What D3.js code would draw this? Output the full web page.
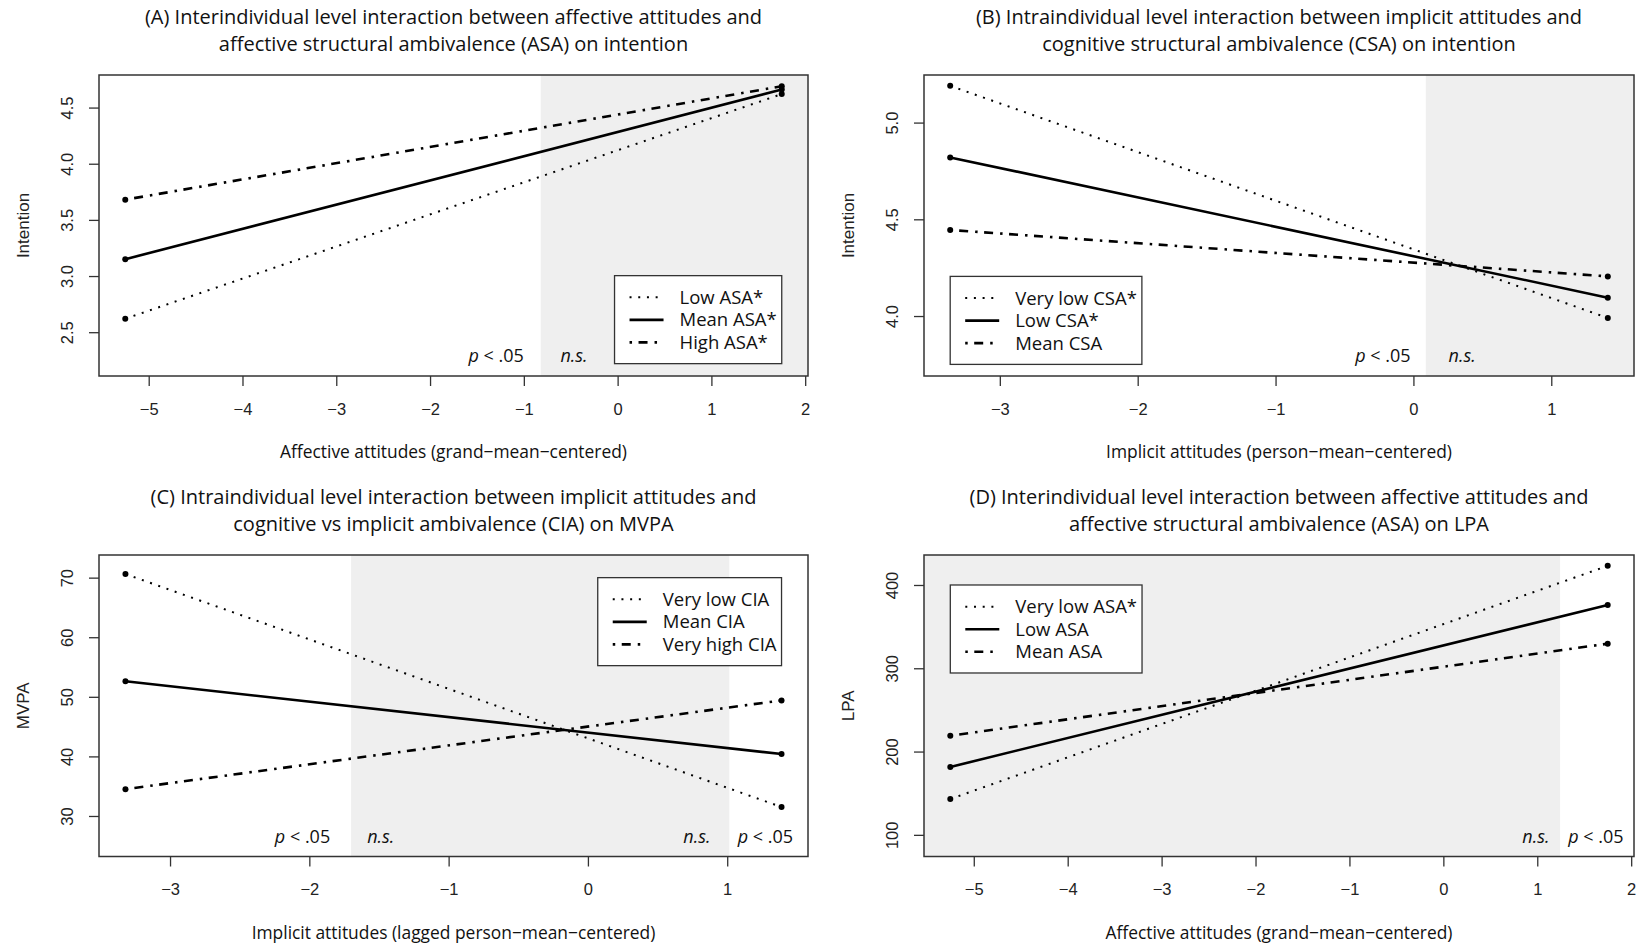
<!DOCTYPE html>
<html>
<head>
<meta charset="utf-8">
<script src="https://cdn.jsdelivr.net/npm/d3@7"></script>
<style>
  body { margin: 0; background: #fff; }
  svg { display: block; }
</style>
</head>
<body>
<div id="chart"></div>
<script>
// ---- data ----
// x positions where the simple slopes are evaluated
var xAffectiveA = [-5.25, 1.75]
var xImplicitB = [-3.36, 1.41]
var xImplicitC = [-3.32, 1.39]
var xAffectiveD = [-5.25, 1.75]

// (A) intention by ASA
var namesA = ["Low ASA*", "Mean ASA*", "High ASA*"]
var lowA = [2.62, 4.62]
var meanA = [3.15, 4.66]
var highA = [3.68, 4.69]
var xTicksA = [-5, -4, -3, -2, -1, 0, 1, 2]
var yTicksA = [2.5, 3.0, 3.5, 4.0, 4.5]
var nsRegionA = [-0.82, null]

// (B) intention by CSA
var namesB = ["Very low CSA*", "Low CSA*", "Mean CSA"]
var veryLowB = [5.19, 3.99]
var lowB = [4.82, 4.095]
var meanB = [4.445, 4.205]
var xTicksB = [-3, -2, -1, 0, 1]
var yTicksB = [4.0, 4.5, 5.0]
var nsRegionB = [0.09, null]

// (C) MVPA by CIA
var namesC = ["Very low CIA", "Mean CIA", "Very high CIA"]
var veryLowC = [70.6, 31.5]
var meanC = [52.6, 40.4]
var veryHighC = [34.5, 49.4]
var xTicksC = [-3, -2, -1, 0, 1]
var yTicksC = [30, 40, 50, 60, 70]
var nsRegionC = [-1.70, 1.015]

// (D) LPA by ASA
var namesD = ["Very low ASA*", "Low ASA", "Mean ASA"]
var veryLowD = [143, 423]
var lowD = [181.5, 376]
var meanD = [219, 329.5]
var xTicksD = [-5, -4, -3, -2, -1, 0, 1, 2]
var yTicksD = [100, 200, 300, 400]
var nsRegionD = [null, 1.243]

// ---- layout ----
var width = 1640
var height = 945
var cols = [[99, 808], [924, 1634]]
var rows = [[75, 376], [555, 856.5]]

var lineStyles = [
  { width: 2, dash: "2,6.7" },          // dotted
  { width: 2.6, dash: null },           // solid
  { width: 2.6, dash: "2.5,6.5,9,7" }   // dot-dash
]

var tickFont = "'Liberation Sans', Arial, sans-serif"
var textFont = "'Open Sans', 'Noto Sans', sans-serif"

var panels = [
  {
    col: 0, row: 0,
    title: ["(A) Interindividual level interaction between affective attitudes and",
            "affective structural ambivalence (ASA) on intention"],
    xLabel: "Affective attitudes (grand\u2212mean\u2212centered)",
    yLabel: "Intention",
    xs: xAffectiveA, series: [lowA, meanA, highA], names: namesA,
    xDomain: [-5.53, 2.03], yDomain: [2.11, 4.79],
    xTicks: xTicksA, yTicks: yTicksA, yFormat: d3.format(".1f"),
    region: nsRegionA,
    legend: { x: 1.75, y: 2.22, h: "right", v: "bottom" },
    notes: [{ x: -1.0, anchor: "end", p: true }, { x: -0.61, anchor: "start", p: false }]
  },
  {
    col: 1, row: 0,
    title: ["(B) Intraindividual level interaction between implicit attitudes and",
            "cognitive structural ambivalence (CSA) on intention"],
    xLabel: "Implicit attitudes (person\u2212mean\u2212centered)",
    yLabel: "Intention",
    xs: xImplicitB, series: [veryLowB, lowB, meanB], names: namesB,
    xDomain: [-3.55, 1.60], yDomain: [3.69, 5.246],
    xTicks: xTicksB, yTicks: yTicksB, yFormat: d3.format(".1f"),
    region: nsRegionB,
    legend: { x: -3.36, y: 3.75, h: "left", v: "bottom" },
    notes: [{ x: -0.02, anchor: "end", p: true }, { x: 0.255, anchor: "start", p: false }]
  },
  {
    col: 0, row: 1,
    title: ["(C) Intraindividual level interaction between implicit attitudes and",
            "cognitive vs implicit ambivalence (CIA) on MVPA"],
    xLabel: "Implicit attitudes (lagged person\u2212mean\u2212centered)",
    yLabel: "MVPA",
    xs: xImplicitC, series: [veryLowC, meanC, veryHighC], names: namesC,
    xDomain: [-3.51, 1.58], yDomain: [23.2, 73.8],
    xTicks: xTicksC, yTicks: yTicksC, yFormat: d3.format("d"),
    region: nsRegionC,
    legend: { x: 1.39, y: 70, h: "right", v: "top" },
    notes: [{ x: -1.85, anchor: "end", p: true }, { x: -1.585, anchor: "start", p: false },
            { x: 0.88, anchor: "end", p: false }, { x: 1.075, anchor: "start", p: true }]
  },
  {
    col: 1, row: 1,
    title: ["(D) Interindividual level interaction between affective attitudes and",
            "affective structural ambivalence (ASA) on LPA"],
    xLabel: "Affective attitudes (grand\u2212mean\u2212centered)",
    yLabel: "LPA",
    xs: xAffectiveD, series: [veryLowD, lowD, meanD], names: namesD,
    xDomain: [-5.53, 2.03], yDomain: [74, 436],
    xTicks: xTicksD, yTicks: yTicksD, yFormat: d3.format("d"),
    region: nsRegionD,
    legend: { x: -5.25, y: 400, h: "left", v: "top" },
    notes: [{ x: 1.13, anchor: "end", p: false }, { x: 1.33, anchor: "start", p: true }]
  }
]

var svg = d3.select("#chart")
  .append("svg")
  .attr("width", width)
  .attr("height", height)

svg.append("rect")
  .attr("width", width)
  .attr("height", height)
  .attr("fill", "#fff")

function styleLine(sel, i) {
  sel.attr("fill", "none")
    .attr("stroke", "#000")
    .attr("stroke-width", lineStyles[i].width)
    .attr("stroke-dasharray", lineStyles[i].dash)
}

function drawPanel(p) {
  var left = cols[p.col][0], right = cols[p.col][1]
  var top = rows[p.row][0], bottom = rows[p.row][1]

  var x = d3.scaleLinear().domain(p.xDomain).range([left, right])
  var y = d3.scaleLinear().domain(p.yDomain).range([bottom, top])

  var g = svg.append("g").attr("class", "panel")

  // non-significant region shading
  var r0 = p.region[0] == null ? p.xDomain[0] : p.region[0]
  var r1 = p.region[1] == null ? p.xDomain[1] : p.region[1]
  g.append("rect")
    .attr("x", x(r0))
    .attr("y", top)
    .attr("width", x(r1) - x(r0))
    .attr("height", bottom - top)
    .attr("fill", "#efefef")

  // slopes
  var line = d3.line()
    .x(function(d, i) { return x(p.xs[i]) })
    .y(function(d) { return y(d) })

  p.series.forEach(function(s, i) {
    g.append("path")
      .attr("d", line(s))
      .call(styleLine, i)
  })

  p.series.forEach(function(s) {
    g.selectAll(null)
      .data(s)
      .enter()
      .append("circle")
      .attr("cx", function(d, i) { return x(p.xs[i]) })
      .attr("cy", function(d) { return y(d) })
      .attr("r", 3)
      .attr("fill", "#000")
  })

  // significance notes
  p.notes.forEach(function(n) {
    var t = g.append("text")
      .attr("x", x(n.x))
      .attr("y", bottom - 14)
      .attr("text-anchor", n.anchor)
      .style("font-family", textFont)
      .style("font-size", "18px")
      .style("fill", "#111")
    if (n.p) {
      t.append("tspan").style("font-style", "italic").text("p")
      t.append("tspan").text(" < .05")
    } else {
      t.append("tspan").style("font-style", "italic").text("n.s.")
    }
  })

  // box
  g.append("rect")
    .attr("x", left)
    .attr("y", top)
    .attr("width", right - left)
    .attr("height", bottom - top)
    .attr("fill", "none")
    .attr("stroke", "#333")
    .attr("stroke-width", 1.5)

  // x axis
  var xAxis = g.append("g")
    .attr("transform", `translate(0,${bottom})`)
    .call(d3.axisBottom(x).tickValues(p.xTicks).tickSize(10).tickPadding(17).tickFormat(d3.format("d")))
  xAxis.select(".domain").remove()
  xAxis.selectAll(".tick line").attr("stroke", "#333").attr("stroke-width", 1.3)
  xAxis.selectAll(".tick text")
    .style("font-family", tickFont)
    .style("font-size", "16.5px")
    .style("fill", "#222")

  // y axis, labels turned like R's las = 0
  var yAxis = g.append("g")
    .attr("transform", `translate(${left},0)`)
    .call(d3.axisLeft(y).tickValues(p.yTicks).tickSize(10).tickFormat(p.yFormat))
  yAxis.select(".domain").remove()
  yAxis.selectAll(".tick line").attr("stroke", "#333").attr("stroke-width", 1.3)
  yAxis.selectAll(".tick text")
    .attr("x", null)
    .attr("dy", "0.35em")
    .attr("transform", "translate(-31.5,0) rotate(-90)")
    .attr("text-anchor", "middle")
    .style("font-family", tickFont)
    .style("font-size", "16.5px")
    .style("fill", "#222")

  // axis titles
  g.append("text")
    .attr("x", (left + right) / 2)
    .attr("y", bottom + 76)
    .attr("dy", "0.35em")
    .attr("text-anchor", "middle")
    .style("font-family", textFont)
    .style("font-size", "17.4px")
    .style("fill", "#111")
    .text(p.xLabel)

  g.append("text")
    .attr("transform", `translate(${left - 76},${(top + bottom) / 2}) rotate(-90)`)
    .attr("dy", "0.35em")
    .attr("text-anchor", "middle")
    .style("font-family", tickFont)
    .style("font-size", "17px")
    .style("fill", "#222")
    .text(p.yLabel)

  // title
  p.title.forEach(function(line, i) {
    g.append("text")
      .attr("x", (left + right) / 2)
      .attr("y", top - 58 + i * 26.5)
      .attr("dy", "0.35em")
      .attr("text-anchor", "middle")
      .style("font-family", textFont)
      .style("font-size", "20px")
      .style("fill", "#111")
      .text(line)
  })

  // legend
  var lg = g.append("g")
  var labels = lg.selectAll("text")
    .data(p.names)
    .enter()
    .append("text")
    .attr("x", 65)
    .attr("y", function(d, i) { return 21.7 + i * 22.5 })
    .attr("dy", "0.35em")
    .style("font-family", textFont)
    .style("font-size", "18.5px")
    .style("fill", "#111")
    .text(function(d) { return d })

  var maxW = d3.max(labels.nodes(), function(n) { return n.getComputedTextLength() })
  var lw = 65 + maxW + 5
  var lh = 88

  lg.insert("rect", "text")
    .attr("width", lw)
    .attr("height", lh)
    .attr("fill", "#fff")
    .attr("stroke", "#333")
    .attr("stroke-width", 1.3)

  p.names.forEach(function(d, i) {
    lg.append("line")
      .attr("x1", 15)
      .attr("x2", 49)
      .attr("y1", 21.7 + i * 22.5)
      .attr("y2", 21.7 + i * 22.5)
      .call(styleLine, i)
  })

  var lx = p.legend.h == "right" ? x(p.legend.x) - lw : x(p.legend.x)
  var ly = p.legend.v == "bottom" ? y(p.legend.y) - lh : y(p.legend.y)
  lg.attr("transform", `translate(${lx},${ly})`)
}

panels.forEach(drawPanel)
</script>
</body>
</html>
